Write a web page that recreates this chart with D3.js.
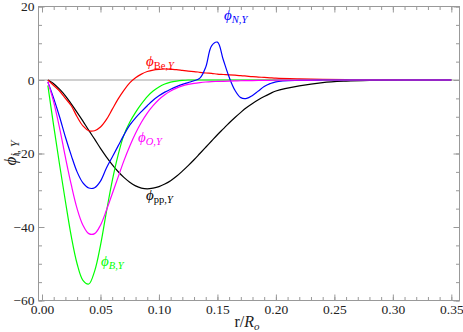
<!DOCTYPE html>
<html lang="en">
<head>
<meta charset="UTF-8">
<title>phi i,Y</title>
<style>
  body { margin: 0; background: #fff; }
  svg text { font-family: "Liberation Serif", "Times New Roman", serif !important; }
</style>
</head>
<body>
<script src="https://d3js.org/d3.v7.min.js"></script>
<script>

// r/Ro grid shared by all curves
const rGrid = [0.005, 0.010, 0.015, 0.020, 0.025, 0.030, 0.035, 0.040, 0.045, 0.050,
  0.055, 0.060, 0.065, 0.070, 0.075, 0.080, 0.085, 0.090, 0.095, 0.100,
  0.105, 0.110, 0.115, 0.120, 0.125, 0.130, 0.135, 0.140, 0.145, 0.150,
  0.155, 0.160, 0.165, 0.170, 0.175, 0.180, 0.185, 0.190, 0.195, 0.200,
  0.22, 0.24, 0.26, 0.28, 0.30, 0.325, 0.35];

const phiPP = [0, -1, -2.5, -4.3, -6.5, -8.8, -11.2, -13.7, -16.1, -18.6,
  -20.9, -23, -24.9, -26.5, -27.8, -28.8, -29.4, -29.6, -29.4, -29.0,
  -28.3, -27.4, -26.2, -24.8, -23.3, -21.7, -20.0, -18.3, -16.6, -14.9,
  -13.3, -11.7, -10.2, -8.8, -7.5, -6.4, -5.4, -4.5, -3.7, -3.0,
  -1.6, -0.7, -0.3, -0.1, -0.03, 0, 0];

const phiBe = [0, -1.5, -3, -5, -7, -10, -12.5, -13.8, -13.8, -12.8,
  -10.8, -8, -5.2, -2.8, -0.8, 0.6, 1.6, 2.3, 2.7, 2.9,
  3.0, 2.9, 2.8, 2.6, 2.4, 2.3, 2.1, 1.9, 1.8, 1.6,
  1.5, 1.4, 1.3, 1.2, 1.05, 0.9, 0.8, 0.7, 0.6, 0.5,
  0.3, 0.15, 0.08, 0.04, 0.02, 0, 0];

const phiB = [-1.5, -12.5, -23, -33, -42.5, -50, -54.5, -55.5, -52, -45,
  -36, -27.5, -20.5, -15, -11.5, -8.8, -6.5, -4.5, -3, -1.9,
  -1.1, -0.6, -0.3, -0.1, 0, 0, 0, 0, 0, 0,
  0, 0, 0, 0, 0, 0, 0, 0, 0, 0,
  0, 0, 0, 0, 0, 0, 0];

const phiN = [-0.5, -5, -10, -15.5, -20.5, -25, -28, -29.4, -29.3, -27.5,
  -24, -21, -18, -15, -12.3, -10.3, -8.6, -7, -5.5, -4.3,
  -3.3, -2.5, -1.8, -1.2, -0.7, -0.2, 0.5, 3.5, 9.3, 10.3,
  5.5, 0.8, -2.8, -4.8, -5, -4.2, -3, -1.8, -1, -0.5,
  -0.1, 0, 0, 0, 0, 0, 0];

const phiO = [-0.5, -6, -13, -21, -28.5, -35, -39.5, -41.8, -41.8, -39.5,
  -35.5, -31, -26.5, -22, -18, -14.5, -11.5, -9, -7, -5.3,
  -4, -3, -2.2, -1.6, -1.2, -0.9, -0.7, -0.55, -0.45, -0.4,
  -0.35, -0.3, -0.25, -0.2, -0.18, -0.15, -0.12, -0.1, -0.08, -0.06,
  -0.03, 0, 0, 0, 0, 0, 0];

const xTicks = [0.00, 0.05, 0.10, 0.15, 0.20, 0.25, 0.30, 0.35];
const yTicks = [20, 0, -20, -40, -60];

const W = 463, H = 332;
const mLeft = 38.5, mRight = 459.5, mTop = 6.5, mBottom = 300.5;

const svg = d3.select('body').append('svg')
  .attr('width', W)
  .attr('height', H);

const x = d3.scaleLinear().domain([-0.003, 0.357]).range([mLeft, mRight]);
const y = d3.scaleLinear().domain([-60, 20]).range([mBottom, mTop]);

const frameColor = '#999';

// zero line
svg.append('line')
  .attr('x1', mLeft).attr('x2', mRight)
  .attr('y1', y(0)).attr('y2', y(0))
  .attr('stroke', '#d0d0d0')
  .attr('stroke-width', 2);

// curves
const series = [
  { vals: phiPP, color: '#000' },
  { vals: phiBe, color: '#ff0000' },
  { vals: phiB, color: '#00ff00' },
  { vals: phiN, color: '#0000ff' },
  { vals: phiO, color: '#ff00ff' }
];

const line = d3.line()
  .x(d => x(d[0]))
  .y(d => y(d[1]))
  .curve(d3.curveCatmullRom.alpha(0.5));

series.forEach(s => {
  svg.append('path')
    .datum(rGrid.map((r, i) => [r, s.vals[i]]))
    .attr('d', line)
    .attr('fill', 'none')
    .attr('stroke', s.color)
    .attr('stroke-width', 1.2);
});

// frame with ticks on all four sides
const xMinor = d3.range(0, 0.355, 0.01);
const yMinor = d3.range(-60, 20.1, 5);

const axisDefs = [
  [d3.axisBottom(x).tickValues(xTicks).tickSize(-6), `translate(0,${mBottom})`, 'x'],
  [d3.axisBottom(x).tickValues(xMinor).tickSize(-3.5), `translate(0,${mBottom})`, null],
  [d3.axisTop(x).tickValues(xTicks).tickSize(-6), `translate(0,${mTop})`, null],
  [d3.axisTop(x).tickValues(xMinor).tickSize(-3.5), `translate(0,${mTop})`, null],
  [d3.axisLeft(y).tickValues(yTicks).tickSize(-6), `translate(${mLeft},0)`, 'y'],
  [d3.axisLeft(y).tickValues(yMinor).tickSize(-3.5), `translate(${mLeft},0)`, null],
  [d3.axisRight(y).tickValues(yTicks).tickSize(-6), `translate(${mRight},0)`, null],
  [d3.axisRight(y).tickValues(yMinor).tickSize(-3.5), `translate(${mRight},0)`, null]
];

axisDefs.forEach(([axis, tr, labels]) => {
  const g = svg.append('g').attr('transform', tr).call(axis);
  g.select('.domain').remove();
  g.selectAll('.tick line').attr('stroke', frameColor);
  if (!labels) { g.selectAll('.tick text').remove(); return; }
  const tx = g.selectAll('.tick text')
    .attr('font-size', 13.5)
    .attr('fill', '#222');
  if (labels === 'x') {
    tx.text(d => d3.format('.2f')(d)).attr('y', 3).attr('dy', '0.75em');
  } else {
    tx.text(d => d < 0 ? '\u2212' + Math.abs(d) : String(d)).attr('x', -4);
  }
});

svg.append('rect')
  .attr('x', mLeft).attr('y', mTop)
  .attr('width', mRight - mLeft).attr('height', mBottom - mTop)
  .attr('fill', 'none')
  .attr('stroke', frameColor)
  .attr('stroke-width', 1);

// axis titles
const xt = svg.append('text')
  .attr('x', 247).attr('y', 327)
  .attr('text-anchor', 'middle')
  .attr('font-size', 16)
  .attr('fill', '#222');
xt.append('tspan').text('r/');
xt.append('tspan').attr('font-style', 'italic').text('R');
xt.append('tspan').attr('font-style', 'italic').attr('font-size', 11).attr('dy', 3).text('o');

const yt = svg.append('text')
  .attr('transform', 'translate(16,153) rotate(-90)')
  .attr('text-anchor', 'middle')
  .attr('font-size', 17)
  .attr('fill', '#222');
yt.append('tspan').attr('font-style', 'italic').text('\u03d5');
yt.append('tspan').attr('font-style', 'italic').attr('font-size', 12).attr('dy', 3).text('i');
yt.append('tspan').attr('font-size', 12).text(', ');
yt.append('tspan').attr('font-style', 'italic').attr('font-size', 12).text('Y');

// curve labels
const curveLabels = [
  { x: 146, y: 66, sub: ['Be', ',', 'Y'], color: '#ff0000' },
  { x: 224, y: 20, sub: ['N', ',', 'Y'], color: '#0000ff' },
  { x: 138, y: 142, sub: ['O', ',', 'Y'], color: '#ff00ff' },
  { x: 146, y: 200, sub: ['pp', ',', 'Y'], color: '#000' },
  { x: 101, y: 266, sub: ['B', ',', 'Y'], color: '#00ff00' }
];

curveLabels.forEach(l => {
  const t = svg.append('text')
    .attr('x', l.x).attr('y', l.y)
    .attr('font-size', 15)
    .attr('fill', l.color);
  t.append('tspan').attr('font-style', 'italic').text('\u03d5');
  const italicFirst = l.sub[0].length === 1;
  t.append('tspan').attr('font-size', 10.5).attr('dy', 3)
    .attr('font-style', italicFirst ? 'italic' : 'normal').text(l.sub[0]);
  t.append('tspan').attr('font-size', 10.5).text(l.sub[1]);
  t.append('tspan').attr('font-size', 10.5).attr('font-style', 'italic').text(l.sub[2]);
});

</script>
</body>
</html>
